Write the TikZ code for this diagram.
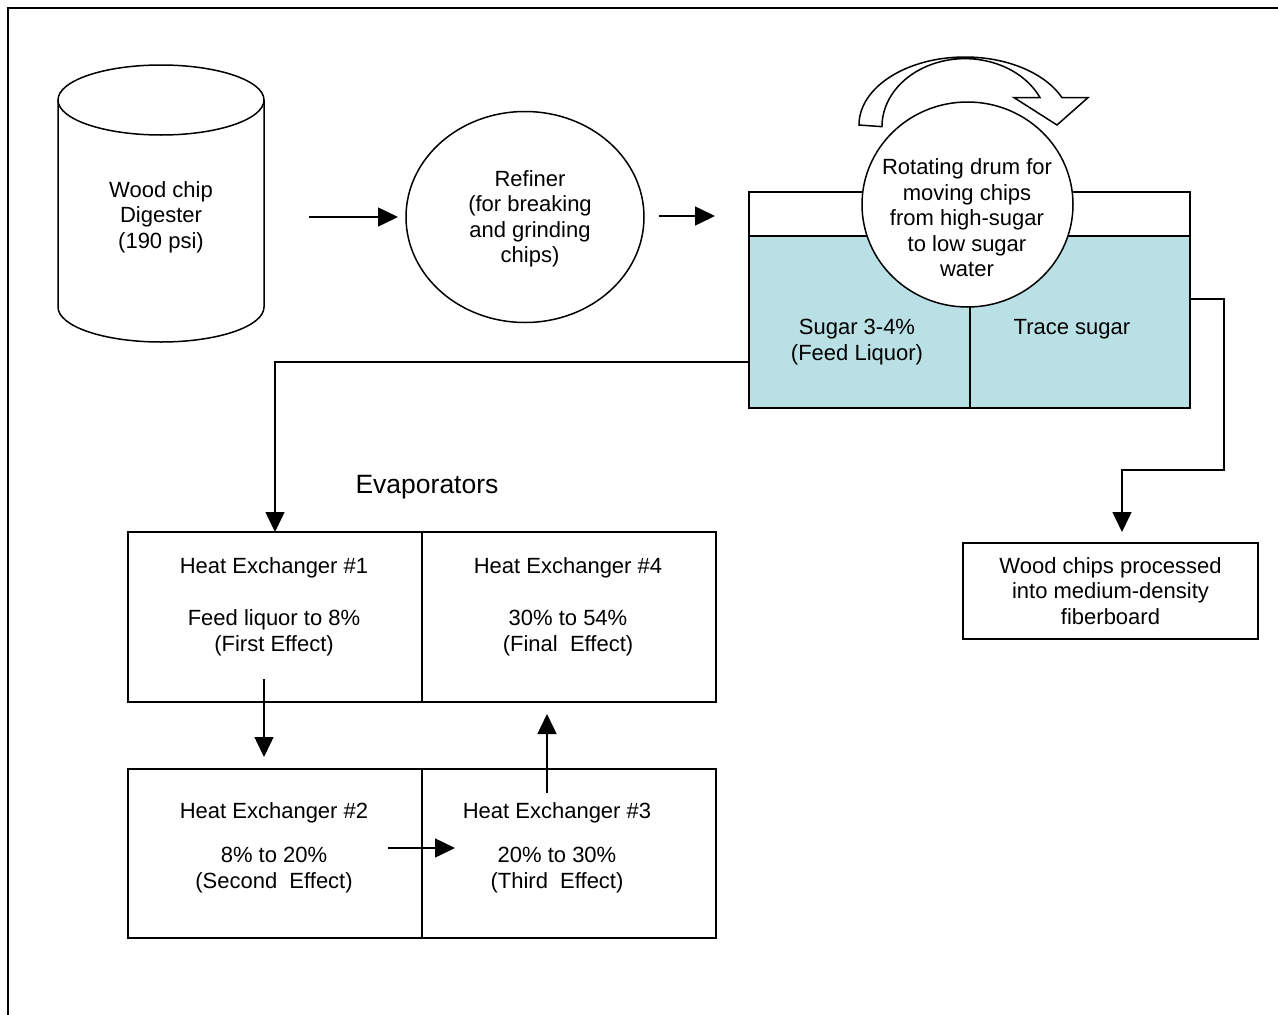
\documentclass[tikz,border=0pt]{standalone}
\usepackage{fontspec}
\setmainfont{Liberation Sans}
\usetikzlibrary{arrows.meta,shapes.geometric}
\definecolor{water}{RGB}{185,224,228}
\tikzset{
  lbl/.style={inner sep=0pt, align=center, font=\fontsize{22}{25.5}\selectfont},
  biglbl/.style={inner sep=0pt, align=center, font=\fontsize{26.5}{30}\selectfont},
  ln/.style={line width=1.5pt, line join=miter},
  arr/.style={line width=1.5pt, -{Triangle[length=20pt,width=19pt]}},
  hebox/.style={draw, line width=1.5pt, inner sep=0pt},
}
\begin{document}
\begin{tikzpicture}[x=1pt,y=-1pt]
\useasboundingbox (0,0) rectangle (1278,1015);
% frame
\draw[line width=1.5pt] (8,1015) -- (8,8) -- (1278,8);
% digester cylinder
\draw[ln] (58,100) -- (58,307) arc[start angle=180,end angle=0,x radius=103,y radius=35] -- (264,100);
\draw[ln] (161,100) ellipse[x radius=103,y radius=35];
\node[lbl] (dig) at (161,217) {Wood chip\\Digester\\(190 psi)};
% refiner
\node[lbl,draw,ellipse,line width=1.5pt,minimum width=238pt,minimum height=211pt] (ref) at (525,217) {};
\node[lbl] (reft) at (530,219) {Refiner\\(for breaking\\and grinding\\chips)};
\coordinate (a1s) at (309,217);
\coordinate (a1e) at (398,217);
\coordinate (a2s) at (659,216);
\coordinate (a2e) at (715,216);
\draw[arr] (a1s) -- (a1e);
\draw[arr] (a2s) -- (a2e);
% tank
\fill[water] (749,236) rectangle (1190,408);
\draw[ln] (749,192) rectangle (1190,408);
\draw[ln] (749,236) -- (1190,236);
\draw[ln] (970,300) -- (970,408);
\node[lbl,draw,fill=white,ellipse,line width=1.5pt,minimum width=211pt,minimum height=205pt] (drum) at (967.5,204.5) {};
\node[lbl] (drumt) at (967,218) {Rotating drum for\\moving chips\\from high-sugar\\to low sugar\\water};
\node[lbl] (sug) at (857,342) {Sugar 3-4\%\\(Feed Liquor)};
\node[lbl] (trace) at (1072,329) {Trace sugar};
% rotating arrow
\draw[ln,fill=white] (859,125) arc[start angle=180,end angle=336.2,x radius=106,y radius=68]
  -- (1088,97.6) -- (1057,125) -- (1014,97.6) -- (1040,97.6)
  arc[start angle=334.7,end angle=180,x radius=83,y radius=68] -- cycle;
% evaporators
\node[biglbl] (evap) at (427,487) {Evaporators};
\node[hebox,minimum width=294pt,minimum height=170pt] (he1) at (275,617) {};
\node[hebox,minimum width=294pt,minimum height=170pt] (he4) at (569,617) {};
\node[hebox,minimum width=294pt,minimum height=169pt] (he2) at (275,853.5) {};
\node[hebox,minimum width=294pt,minimum height=169pt] (he3) at (569,853.5) {};
\node[lbl] (he1a) at (274,568) {Heat Exchanger \#1};
\node[lbl] (he1b) at (274,633) {Feed liquor to 8\%\\(First Effect)};
\node[lbl] (he4a) at (568,568) {Heat Exchanger \#4};
\node[lbl] (he4b) at (568,633) {30\% to 54\%\\(Final~ Effect)};
\node[lbl] (he2a) at (274,813) {Heat Exchanger \#2};
\node[lbl] (he2b) at (274,870) {8\% to 20\%\\(Second~ Effect)};
\node[lbl] (he3a) at (557,813) {Heat Exchanger \#3};
\node[lbl] (he3b) at (557,870) {20\% to 30\%\\(Third~ Effect)};
% feed connector
\coordinate (tl) at (749,362);
\coordinate (h1in) at (275,532);
\draw[arr] (tl) -| (h1in);
% internal arrows
\coordinate (b1s) at (264,679);
\coordinate (b1e) at (264,757);
\draw[arr] (b1s) -- (b1e);
\coordinate (b2s) at (388,848);
\coordinate (b2e) at (455,848);
\draw[arr] (b2s) -- (b2e);
\coordinate (b3s) at (547,793);
\coordinate (b3e) at (547,714);
\draw[arr] (b3s) -- (b3e);
% trace sugar connector
\node[lbl,draw,line width=1.5pt,minimum width=295pt,minimum height=96pt] (mdf) at (1110.5,591) {Wood chips processed\\into medium-density\\fiberboard};
\coordinate (tr) at (1190,299);
\coordinate (m1) at (1224,299);
\coordinate (m2) at (1224,470);
\coordinate (m3) at (1122,470);
\coordinate (mdfin) at (1122,532);
\draw[arr] (tr) -- (m1) -- (m2) -- (m3) -- (mdfin);
\end{tikzpicture}
\end{document}
